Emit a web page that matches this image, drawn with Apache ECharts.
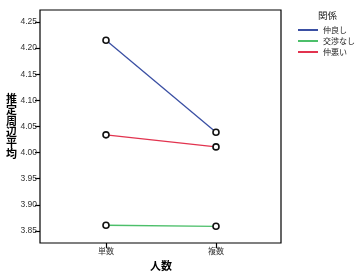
<!DOCTYPE html>
<html><head><meta charset="utf-8">
<script src="https://cdn.jsdelivr.net/npm/echarts@6/dist/echarts.min.js"></script>
<style>html,body{margin:0;padding:0;background:#fff}#c{width:357px;height:275px}</style>
</head><body><div id="c"></div>
<script>
const categories = ['単数', '複数'];
const seriesNames = ['仲良し', '交渉なし', '仲悪い'];
const nakayoshi = [4.215, 4.039];
const koushounashi = [3.861, 3.859];
const nakawarui = [4.034, 4.011];
const yTicks = [3.85, 3.90, 3.95, 4.00, 4.05, 4.10, 4.15, 4.20, 4.25];
const colors = ['#3a4fa3', '#4cbf6a', '#e2334f'];
const F = '"Noto Sans CJK JP", "DejaVu Sans", sans-serif';

const chart = echarts.init(document.getElementById('c'), null, {renderer: 'canvas'});
const mk = (name, data, color) => ({
  name, type: 'line', data, xAxisIndex: 1, yAxisIndex: 1,
  symbol: 'circle', symbolSize: 6, showSymbol: true,
  lineStyle: {color, width: 1.3},
  itemStyle: {color: '#fff', borderColor: '#111', borderWidth: 1.6},
  color, animation: false, z: 3
});
chart.setOption({
  animation: false,
  backgroundColor: '#fff',
  textStyle: {fontFamily: F},
  grid: [
    {left: 40, top: 10, width: 241, height: 233, show: true, borderColor: '#000', borderWidth: 1.2, backgroundColor: 'transparent'},
    {left: 51, right: 86, top: 22, bottom: 44}
  ],
  xAxis: [
    {gridIndex: 0, type: 'value', show: false},
    {gridIndex: 1, type: 'category', data: categories, boundaryGap: true, offset: 12,
     axisLine: {show: false}, axisTick: {show: true, alignWithLabel: true, length: 5, lineStyle: {color: '#000', width: 1.2}},
     axisLabel: {fontSize: 8, color: '#333', margin: 4, fontFamily: F}}
  ],
  yAxis: [
    {gridIndex: 0, type: 'value', show: false},
    {gridIndex: 1, type: 'value', min: yTicks[0], max: yTicks[yTicks.length - 1], interval: 0.05, offset: 11,
     splitLine: {show: false}, axisLine: {show: false},
     axisTick: {show: true, length: 5, lineStyle: {color: '#000', width: 1.2}},
     axisLabel: {fontSize: 8.5, color: '#333', margin: 3, fontFamily: 'Liberation Sans, Arial, sans-serif', formatter: v => v.toFixed(2)}}
  ],
  legend: {
    orient: 'vertical', left: 293, top: 21, itemWidth: 20, itemHeight: 2, itemGap: 3,
    icon: 'rect', textStyle: {fontSize: 8, color: '#222', fontFamily: F},
    data: seriesNames.map((n, i) => ({name: n, itemStyle: {color: colors[i], borderWidth: 0}}))
  },
  graphic: [
    {type: 'text', left: 318, top: 11, style: {text: '関係', font: '9.5px ' + F, fill: '#222'}},
    {type: 'text', left: 6, top: 93, style: {text: '推\n定\n周\n辺\n平\n均', font: 'bold 11px ' + F, fill: '#000', lineHeight: 11}},
    {type: 'text', left: 150, top: 260, style: {text: '人数', font: 'bold 11px ' + F, fill: '#000'}}
  ],
  series: [
    mk(seriesNames[0], nakayoshi, colors[0]),
    mk(seriesNames[1], koushounashi, colors[1]),
    mk(seriesNames[2], nakawarui, colors[2])
  ]
});
</script></body></html>
